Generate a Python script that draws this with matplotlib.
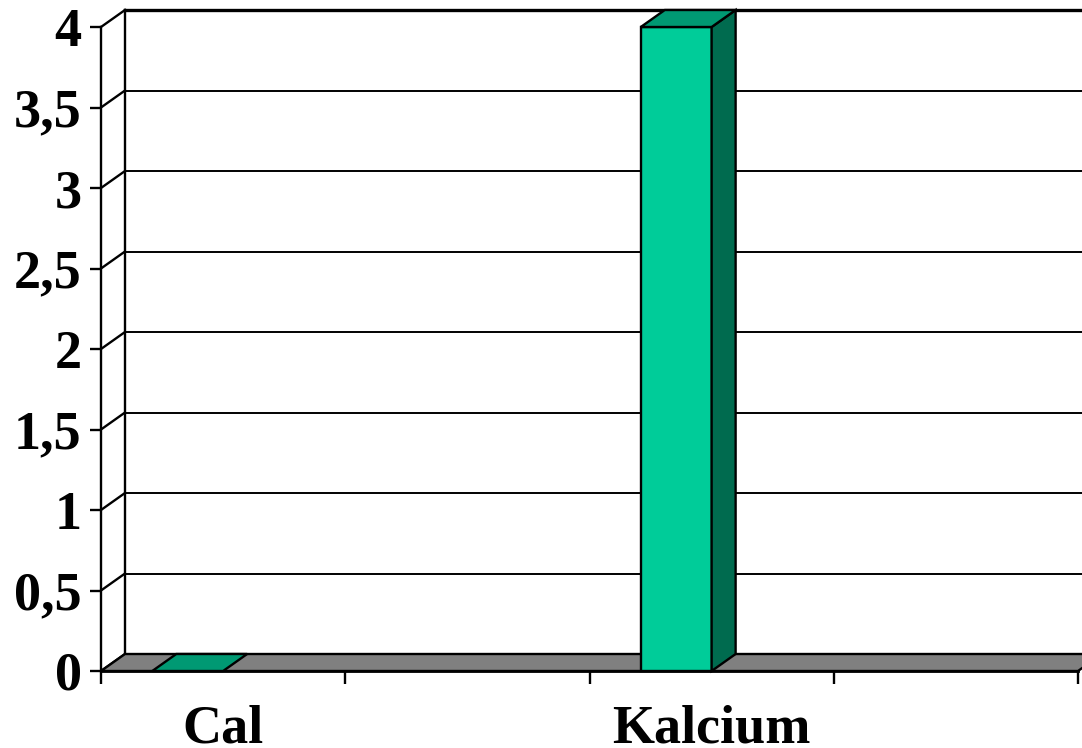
import matplotlib.pyplot as plt
from matplotlib.patches import Polygon
import numpy as np

# data
categories = ["Cal", "", "Kalcium", ""]
values = [0.0, np.nan, 4.0, np.nan]
yticks = [0, 0.5, 1, 1.5, 2, 2.5, 3, 3.5, 4]
ytick_labels = ["0", "0,5", "1", "1,5", "2", "2,5", "3", "3,5", "4"]

FRONT = "#00CC99"
SIDE = "#006B4F"
TOP = "#009973"
FLOOR = "#808080"

W, H = 1082, 748
fig = plt.figure(figsize=(W / 100, H / 100), dpi=100)
# front plane of the 3D box, in pixels
x0_px, x1_px, y0_px, y1_px = 101, 1078, 671, 27
ax = fig.add_axes([x0_px / W, (H - y0_px) / H, (x1_px - x0_px) / W, (y0_px - y1_px) / H])
n = len(categories)
ymax = yticks[-1]
ax.set_xlim(0, n)
ax.set_ylim(0, ymax)

# depth offset in data units
dx = 24 / ((x1_px - x0_px) / n)
dy = 17 / ((y0_px - y1_px) / ymax)

lw = 1.7
# back wall grid lines
for v in yticks:
    ax.plot([dx, n + dx], [v + dy, v + dy], color="black",
            lw=2.4 if v == ymax else 1.4, clip_on=False, zorder=1)
    # left wall diagonals
    ax.plot([0, dx], [v, v + dy], color="black", lw=lw, clip_on=False, zorder=1)
ax.plot([dx, dx], [dy, ymax + dy], color="black", lw=lw, clip_on=False, zorder=1)
ax.plot([0, 0], [0, ymax], color="black", lw=lw, clip_on=False, zorder=5)

# floor
floor = Polygon([(0, 0), (n, 0), (n + dx, dy), (dx, dy)], closed=True,
                facecolor=FLOOR, edgecolor="black", lw=lw, clip_on=False, zorder=2)
ax.add_patch(floor)

# bars
bar_left = 0.21
bar_w = 0.29
for i, v in enumerate(values):
    if np.isnan(v):
        continue
    a = i + bar_left
    b = a + bar_w
    kw = dict(closed=True, edgecolor="black", lw=lw, clip_on=False, zorder=3)
    if v > 0:
        ax.add_patch(Polygon([(a, 0), (b, 0), (b, v), (a, v)], facecolor=FRONT, **kw))
        ax.add_patch(Polygon([(b, 0), (b + dx, dy), (b + dx, v + dy), (b, v)],
                             facecolor=SIDE, **kw))
    ax.add_patch(Polygon([(a, v), (b, v), (b + dx, v + dy), (a + dx, v + dy)],
                         facecolor=TOP, **kw))

ax.plot([0, n], [0, 0], color="black", lw=2.0, clip_on=False, zorder=5)

for s in ax.spines.values():
    s.set_visible(False)
ax.patch.set_alpha(0)

font = dict(family="Liberation Serif", weight="bold", size=39)
ax.set_yticks(yticks)
ax.set_yticklabels(ytick_labels, fontdict=font)
ax.tick_params(axis="y", direction="out", length=8, width=lw, pad=6)

ax.set_xticks(range(n + 1))
ax.set_xticklabels([])
ax.set_xticks([i + 0.5 for i in range(n)], minor=True)
ax.set_xticklabels(categories, minor=True, fontdict=font)
ax.tick_params(axis="x", which="major", direction="out", length=9, width=lw)
ax.tick_params(axis="x", which="minor", length=0, pad=24)

fig.savefig("out.png", dpi=100)
